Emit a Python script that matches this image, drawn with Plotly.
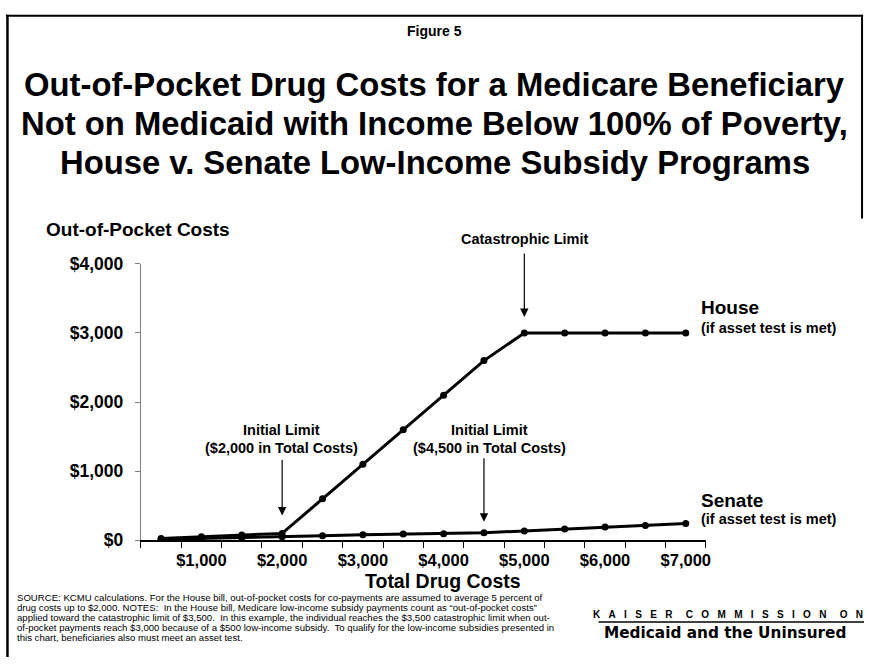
import plotly.graph_objects as go

# ---------------- data ----------------
drug_costs = [500, 1000, 1500, 2000, 2500, 3000, 3500, 4000, 4500, 5000, 5500, 6000, 6500, 7000]
house_oop = [25, 50, 75, 100, 600, 1100, 1600, 2100, 2600, 3000, 3000, 3000, 3000, 3000]
senate_oop = [15, 25, 40, 50, 65, 80, 90, 95, 110, 136, 164, 192, 216, 244]

x_tick_vals = [1000, 2000, 3000, 4000, 5000, 6000, 7000]
x_tick_text = ["$1,000", "$2,000", "$3,000", "$4,000", "$5,000", "$6,000", "$7,000"]
x_bound_vals = [250, 750, 1250, 1750, 2250, 2750, 3250, 3750, 4250, 4750, 5250, 5750, 6250, 6750, 7250]
y_tick_vals = [0, 1000, 2000, 3000, 4000]
y_tick_text = ["$0", "$1,000", "$2,000", "$3,000", "$4,000"]

title_lines = [
    "Out-of-Pocket Drug Costs for a Medicare Beneficiary",
    "Not on Medicaid with Income Below 100% of Poverty,",
    "House v. Senate Low-Income Subsidy Programs",
]
footnote_lines = [
    "SOURCE: KCMU calculations. For the House bill, out-of-pocket costs for co-payments are assumed to average 5 percent of",
    "drug costs up to $2,000. NOTES:  In the House bill, Medicare low-income subsidy payments count as \u201cout-of-pocket costs\u201d",
    "applied toward the catastrophic limit of $3,500.  In this example, the individual reaches the $3,500 catastrophic limit when out-",
    "of-pocket payments reach $3,000 because of a $500 low-income subsidy.  To qualify for the low-income subsidies presented in",
    "this chart, beneficiaries also must meet an asset test.",
]

W, H = 874, 667
FONT = "Liberation Sans, Arial, sans-serif"


def X(p):
    return p / W


def Y(p):
    return 1 - p / H


fig = go.Figure()
fig.add_trace(go.Scatter(x=drug_costs, y=senate_oop, mode="lines+markers",
                         line=dict(color="black", width=3),
                         marker=dict(size=7, color="black"), name="Senate"))
fig.add_trace(go.Scatter(x=drug_costs, y=house_oop, mode="lines+markers",
                         line=dict(color="black", width=3),
                         marker=dict(size=7, color="black"), name="House"))

ann = []


def txt(x, y, s, size, bold=True, xanchor="center", yanchor="middle", family=FONT, color="black"):
    ann.append(dict(x=X(x), y=Y(y), xref="paper", yref="paper", text=s, showarrow=False,
                    xanchor=xanchor, yanchor=yanchor,
                    font=dict(family=family, size=size, color=color,
                              weight="bold" if bold else "normal")))


# titles
txt(437, 22, "Figure 5", 14)
for i, line in enumerate(title_lines):
    txt(437, 77 + 40 * i, line, 32.8)

txt(44, 226, "Out-of-Pocket Costs", 19, xanchor="left")
txt(446, 589, "Total Drug Costs", 19.5)

# series labels
txt(703, 307, "House", 19, xanchor="left")
txt(703, 328, "(if asset test is met)", 14.5, xanchor="left")
txt(703, 506, "Senate", 19, xanchor="left")
txt(703, 525, "(if asset test is met)", 14.5, xanchor="left")

# limit labels
txt(528, 236, "Catastrophic Limit", 14.5)
txt(283, 433, "Initial Limit", 14.5)
txt(283, 452, "($2,000 in Total Costs)", 14.5)
txt(492, 433, "Initial Limit", 14.5)
txt(492, 452, "($4,500 in Total Costs)", 14.5)

# arrows (pointing at data points)
for (ax_x, ax_y, ay_px, stand) in [(5000, 3000, -81, 16), (2000, 100, -75, 18), (4500, 110, -76, 11)]:
    ann.append(dict(x=ax_x, y=ax_y, xref="x", yref="y", text="", showarrow=True,
                    ax=0, ay=ay_px, arrowhead=2, arrowsize=1.4, arrowwidth=1.2,
                    arrowcolor="black", standoff=stand))

# footnote
for i, line in enumerate(footnote_lines):
    txt(15, 606 + 10.3 * i, line, 9.6, bold=False, xanchor="left")

# logo
gap = "\u00a0\u00a0\u00a0"
word_gap = gap + "\u2002"
logo_top = word_gap.join(gap.join(w) for w in ["KAISER", "COMMISSION", "ON"])
txt(870, 623, logo_top, 10, xanchor="right")
txt(853, 642, "Medicaid and the Uninsured", 15.3, xanchor="right", family="DejaVu Sans, sans-serif")

shapes = [
    # frame
    dict(type="line", xref="paper", yref="paper", x0=X(6), x1=X(868), y0=Y(6), y1=Y(6),
         line=dict(color="black", width=2)),
    dict(type="line", xref="paper", yref="paper", x0=X(7.5), x1=X(7.5), y0=Y(5), y1=Y(667),
         line=dict(color="black", width=2.5)),
    dict(type="line", xref="paper", yref="paper", x0=X(867), x1=X(867), y0=Y(5), y1=Y(215),
         line=dict(color="black", width=2)),
    # logo underline
    dict(type="line", xref="paper", yref="paper", x0=X(602), x1=X(869), y0=Y(631), y1=Y(631),
         line=dict(color="black", width=1.5)),
]

fig.update_layout(
    width=W, height=H, margin=dict(l=0, r=0, t=0, b=0),
    paper_bgcolor="white", plot_bgcolor="white",
    showlegend=False,
    annotations=ann, shapes=shapes,
    font=dict(family=FONT, color="black"),
    xaxis=dict(domain=[141.7 / W, 710 / W], range=[250, 7250], showgrid=False, zeroline=False,
               showline=True, linecolor="black", linewidth=2,
               tickvals=x_tick_vals, ticktext=x_tick_text, ticks="", ticklabelstandoff=4,
               tickfont=dict(size=16.5, weight="bold", family=FONT),
               minor=dict(tickvals=x_bound_vals, ticks="outside", ticklen=6, tickwidth=1,
                          tickcolor="black", showgrid=False)),
    yaxis=dict(domain=[(H - 546.7) / H, (H - 261.7) / H], range=[0, 4000], showgrid=False,
               zeroline=False, showline=True, linecolor="#808080", linewidth=1.2,
               tickvals=y_tick_vals, ticktext=y_tick_text, ticks="outside", ticklen=5,
               tickcolor="#808080", tickwidth=1, ticklabelstandoff=8,
               tickfont=dict(size=17.5, weight="bold", family=FONT)),
)

fig.write_html("out.html")
